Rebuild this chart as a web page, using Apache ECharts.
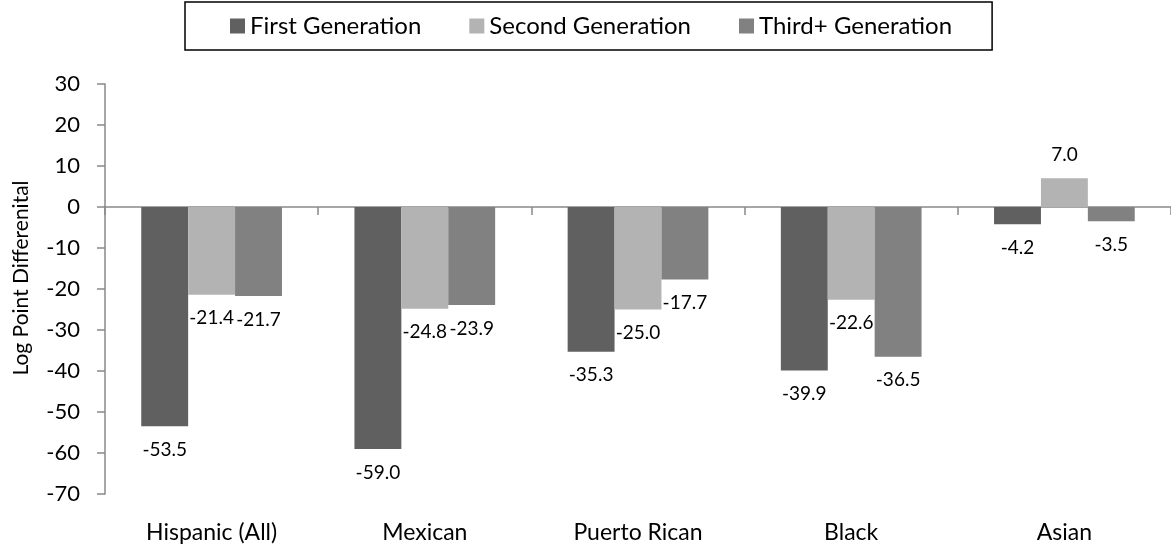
<!DOCTYPE html>
<html>
<head>
<meta charset="utf-8">
<script src="https://cdn.jsdelivr.net/npm/echarts@6/dist/echarts.min.js"></script>
<style>
  html, body { margin: 0; padding: 0; background: #fff; }
  #chart { width: 1171px; height: 548px; }
</style>
</head>
<body>
<div id="chart"></div>
<script>
// Groups along the category axis
const categories = ['Hispanic (All)', 'Mexican', 'Puerto Rican', 'Black', 'Asian'];

// Log point differential by immigrant generation
const firstGeneration  = [-53.5, -59.0, -35.3, -39.9, -4.2];
const secondGeneration = [-21.4, -24.8, -25.0, -22.6, 7.0];
const thirdGeneration  = [-21.7, -23.9, -17.7, -36.5, -3.5];

const seriesNames = ['First Generation', 'Second Generation', 'Third+ Generation'];
const seriesColors = ['#606060', '#b3b3b3', '#818181'];
const yAxisTitle = 'Log Point Differenital';

const FONT = 'Lato, "Open Sans", sans-serif';
const AXIS_GREY = '#898989';

// Value labels sit beyond the bar end: above positive bars, below negative ones
function toItems(values) {
  return values.map(v => ({
    value: v,
    label: { position: v >= 0 ? 'top' : 'bottom' }
  }));
}

function barSeries(name, values, color) {
  return {
    name: name,
    type: 'bar',
    xAxisIndex: 0,
    yAxisIndex: 0,
    data: toItems(values),
    itemStyle: { color: color },
    barGap: '0%',
    barCategoryGap: '34%',
    label: {
      show: true,
      distance: 14,
      color: '#000',
      fontFamily: FONT,
      fontSize: 19,
      formatter: p => p.value.toFixed(1)
    }
  };
}

const chart = echarts.init(document.getElementById('chart'), null, { renderer: 'canvas' });

chart.setOption({
  animation: false,
  backgroundColor: '#fff',
  legend: {
    left: 185,
    top: 2,
    padding: [12, 40, 12, 45],
    borderColor: '#000',
    borderWidth: 1.5,
    itemWidth: 15,
    itemHeight: 15,
    itemGap: 48,
    icon: 'rect',
    textStyle: { fontFamily: FONT, fontSize: 24, color: '#000' },
    data: seriesNames
  },
  graphic: [
    {
      type: 'text',
      x: 21,
      y: 278,
      rotation: Math.PI / 2,
      style: {
        text: yAxisTitle,
        fill: '#000',
        font: '21px ' + FONT,
        align: 'center',
        verticalAlign: 'middle'
      }
    }
  ],
  grid: { left: 105, right: -7, top: 84, bottom: 54, containLabel: false },
  xAxis: [
    {
      type: 'category',
      data: categories,
      axisLine: { onZero: true, lineStyle: { color: AXIS_GREY, width: 1.5 } },
      axisTick: { show: true, length: 8, lineStyle: { color: AXIS_GREY, width: 1.5 } },
      axisLabel: { show: false },
      splitLine: { show: false }
    },
    {
      type: 'category',
      data: categories,
      position: 'bottom',
      axisLine: { show: false },
      axisTick: { show: false },
      axisLabel: { show: true, color: '#000', fontFamily: FONT, fontSize: 23, margin: 27 },
      splitLine: { show: false }
    }
  ],
  yAxis: {
    type: 'value',
    min: -70,
    max: 30,
    interval: 10,
    axisLine: { show: true, lineStyle: { color: AXIS_GREY, width: 1.5 } },
    axisTick: { show: true, length: 8, lineStyle: { color: AXIS_GREY, width: 1.5 } },
    axisLabel: { color: '#000', fontFamily: FONT, fontSize: 22, margin: 25 },
    splitLine: { show: false }
  },
  series: [
    barSeries(seriesNames[0], firstGeneration, seriesColors[0]),
    barSeries(seriesNames[1], secondGeneration, seriesColors[1]),
    barSeries(seriesNames[2], thirdGeneration, seriesColors[2])
  ]
});
</script>
</body>
</html>
